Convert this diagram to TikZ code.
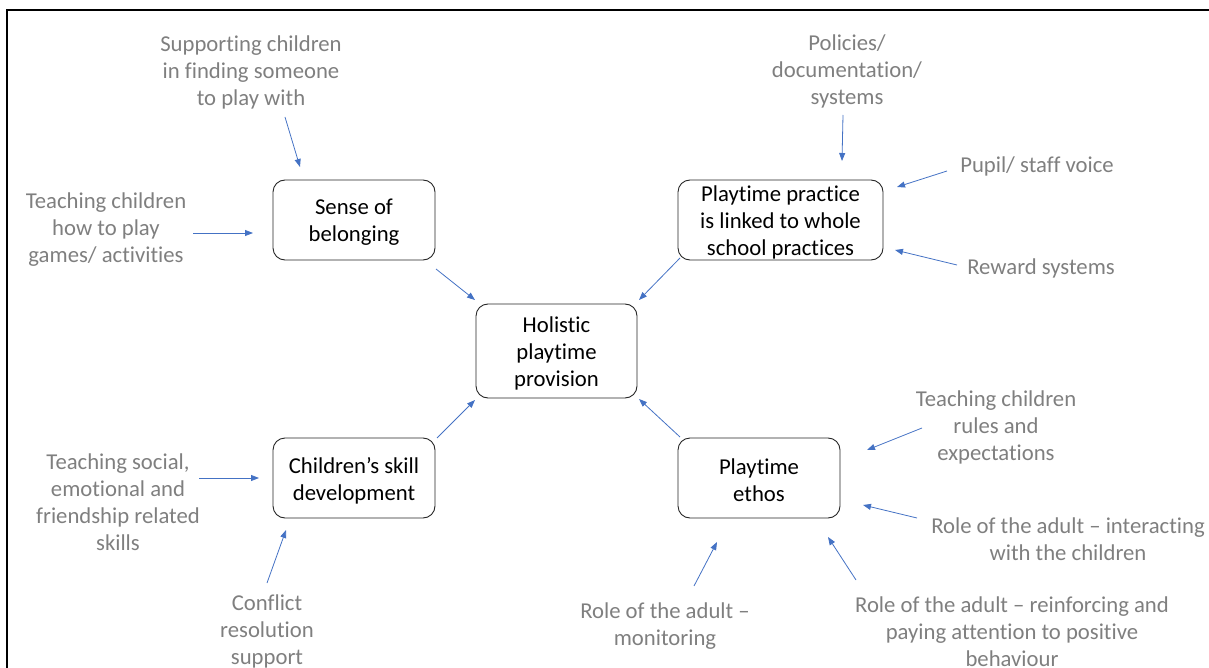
\documentclass[tikz,border=0pt]{standalone}
\usepackage{fontspec}
\setmainfont{Carlito}[Ligatures=NoCommon]
\usetikzlibrary{arrows.meta}
\definecolor{lblc}{HTML}{7F7F7F}
\definecolor{arr}{HTML}{4472C4}
\begin{document}
\begin{tikzpicture}[x=1pt,y=-1pt,
  box/.style={draw=black!85, rounded corners=12pt, line width=0.9pt, inner sep=0pt},
  boxtxt/.style={align=center, inner sep=0pt, font=\fontsize{22.7}{27}\selectfont},
  lbl/.style={text=lblc, align=center, inner sep=0pt, font=\fontsize{22.7}{27}\selectfont},
  conn/.style={draw=arr, line width=0.8pt, -{Triangle[length=8pt,width=6pt]}}]
\useasboundingbox (0,0) rectangle (1209,668);
\draw[line width=1.2pt] (7,668) -- (7,10) -- (1209,10);
% boxes
\node[box, minimum width=162pt, minimum height=80pt] (sense) at (354,220) {};
\node[box, minimum width=205pt, minimum height=80pt] (prac) at (780.5,220) {};
\node[box, minimum width=161pt, minimum height=94pt] (hol) at (556.5,351) {};
\node[box, minimum width=162pt, minimum height=80pt] (skill) at (354,478) {};
\node[box, minimum width=162pt, minimum height=80pt] (ethos) at (759,478) {};
\node[boxtxt] (senset) at ([yshift=-2.5pt]sense.center) {Sense of\\belonging};
\node[boxtxt] (pract) at ([yshift=-2pt]prac.center) {Playtime practice\\is linked to whole\\school practices};
\node[boxtxt] (holt) at ([yshift=-2.5pt]hol.center) {Holistic\\playtime\\provision};
\node[boxtxt] (skillt) at ([yshift=-2.5pt]skill.center) {Children’s skill\\development};
\node[boxtxt] (ethost) at ([yshift=-2.5pt]ethos.center) {Playtime\\ethos};
% labels
\node[lbl] (l1) at (251,72) {Supporting children\\in finding someone\\to play with};
\node[lbl] (l2) at (106,230) {Teaching children\\how to play\\games/ activities};
\node[lbl] (l3) at (847,71) {Policies/\\documentation/\\systems};
\node[lbl] (l4) at (1037,166) {Pupil/ staff voice};
\node[lbl] (l5) at (1041,268) {Reward systems};
\node[lbl] (l6) at (118,502) {Teaching social,\\emotional and\\friendship related\\skills};
\node[lbl] (l7) at (267,631) {Conflict\\resolution\\support};
\node[lbl] (l8) at (996,427) {Teaching children\\rules and\\expectations};
\node[lbl] (l9) at (1068,539) {Role of the adult – interacting\\with the children};
\node[lbl] (l10) at (1012,632) {Role of the adult – reinforcing and\\paying attention to positive\\behaviour};
\node[lbl] (l11) at (665,626) {Role of the adult –\\monitoring};
% arrow end points
\coordinate (a1s) at (285,117); \coordinate (a1e) at (300,167);
\coordinate (a2s) at (193,233); \coordinate (a2e) at (253,233);
\coordinate (a3s) at (436,269); \coordinate (a3e) at (475,300);
\coordinate (a4s) at (680,258); \coordinate (a4e) at (639,300);
\coordinate (a5s) at (437,438); \coordinate (a5e) at (475,400);
\coordinate (a6s) at (680,437); \coordinate (a6e) at (639,399);
\coordinate (a7s) at (843,115); \coordinate (a7e) at (842,161);
\coordinate (a8s) at (947,171); \coordinate (a8e) at (897,187);
\coordinate (a9s) at (957,265); \coordinate (a9e) at (895,250);
\coordinate (a10s) at (199,478); \coordinate (a10e) at (259,478);
\coordinate (a11s) at (267,583); \coordinate (a11e) at (286,530);
\coordinate (a12s) at (922,428); \coordinate (a12e) at (867,450);
\coordinate (a13s) at (917,518); \coordinate (a13e) at (863,505);
\coordinate (a14s) at (856,580); \coordinate (a14e) at (828,537);
\coordinate (a15s) at (694,586); \coordinate (a15e) at (717,542);
\foreach \i in {1,...,15} \draw[conn] (a\i s) -- (a\i e);
\end{tikzpicture}
\end{document}
